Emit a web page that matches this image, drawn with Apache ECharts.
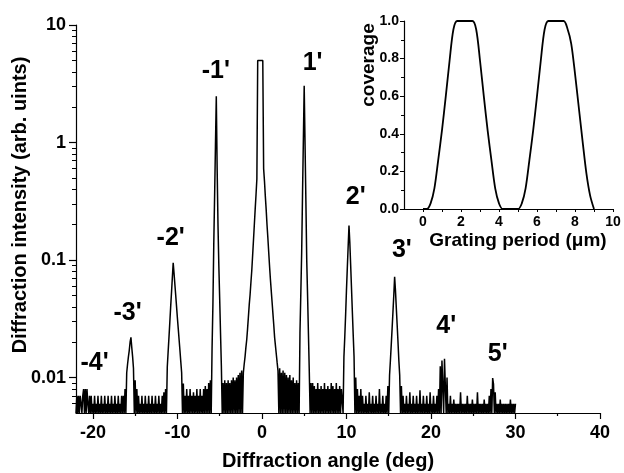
<!DOCTYPE html>
<html>
<head>
<meta charset="utf-8">
<script src="https://cdn.jsdelivr.net/npm/echarts@6.0.0/dist/echarts.min.js"></script>
<style>
  html, body { margin: 0; padding: 0; background: #fff; }
  #chart { width: 624px; height: 473px; }
</style>
</head>
<body>
<div id="chart"></div>
<script>
// Diffraction scan, sampled every 0.1 deg starting at -22 deg
const angleStart = -22.0;
const angleStep = 0.1;
const intensity = [
  .005,.007,.005,.007,.005,.007,.006,.005,.007,.008,   // -22
  .005,.008,.005,.008,.006,.005,.007,.005,.007,.005,   // -21
  .006,.005,.007,.005,.006,.005,.007,.005,.006,.005,   // -20
  .007,.005,.006,.005,.007,.005,.006,.005,.007,.005,   // -19
  .006,.005,.007,.005,.006,.005,.007,.005,.006,.005,   // -18
  .007,.005,.006,.005,.007,.005,.007,.005,.008,.005,   // -17
  .011,.013,.015,.017,.020,.022,.018,.015,.012,.005,   // -16
  .0095,.005,.008,.005,.007,.005,.006,.005,.007,.005,  // -15
  .006,.005,.007,.005,.006,.005,.007,.005,.006,.005,   // -14
  .007,.005,.006,.005,.007,.005,.006,.005,.007,.005,   // -13
  .006,.005,.007,.005,.0075,.005,.008,.005,.0123,.0165, // -12
  .022,.0295,.040,.053,.071,.095,.077,.062,.050,.040,  // -11
  .032,.026,.021,.017,.0136,.011,.005,.0089,.005,.007, // -10
  .005,.008,.005,.007,.005,.008,.005,.007,.005,.0075,  // -9
  .005,.007,.005,.008,.005,.007,.005,.008,.005,.007,   // -8
  .005,.008,.005,.0085,.005,.008,.005,.009,.005,.0095, // -7
  .005,.018,.042,.134,.35,.94,2.48,.60,.20,.090,       // -6
  .047,.024,.0125,.005,.009,.005,.0095,.005,.009,.005, // -5
  .0095,.005,.009,.005,.0095,.005,.010,.005,.0095,.005, // -4
  .010,.005,.0105,.005,.011,.005,.0115,.005,.011,.013, // -3
  .015,.018,.021,.026,.033,.042,.051,.065,.082,.11,    // -2
  .148,.20,.27,.36,.49,5,5,5,5,5,                      // -1
  5,5,.60,.47,.35,.27,.20,.155,.117,.089,              // 0
  .069,.055,.044,.035,.028,.022,.0186,.0158,.0134,.0114, // 1
  .005,.012,.005,.011,.005,.0115,.005,.011,.005,.0105, // 2
  .005,.010,.005,.0105,.005,.0095,.005,.010,.005,.009, // 3
  .005,.0095,.005,.009,.005,.024,.052,.115,.35,1.03,   // 4
  3.04,.98,.32,.10,.050,.024,.0115,.005,.009,.005,     // 5
  .009,.005,.0085,.005,.008,.005,.009,.005,.008,.005,  // 6
  .0085,.005,.008,.005,.009,.005,.008,.005,.0085,.005, // 7
  .008,.005,.009,.005,.0085,.005,.008,.005,.009,.005,  // 8
  .008,.005,.0085,.005,.008,.008,.005,.015,.022,.034,  // 9
  .055,.085,.13,.197,.14,.09,.057,.036,.023,.015,      // 10
  .005,.010,.005,.008,.005,.007,.005,.008,.005,.007,   // 11
  .005,.006,.005,.007,.005,.006,.005,.0075,.005,.006,  // 12
  .005,.007,.005,.006,.005,.007,.005,.006,.005,.008,   // 13
  .005,.006,.005,.007,.005,.006,.005,.007,.005,.0085,  // 14
  .005,.0105,.014,.019,.026,.036,.050,.072,.055,.039,  // 15
  .028,.020,.014,.0105,.005,.0085,.005,.007,.005,.006, // 16
  .005,.007,.005,.006,.005,.0075,.005,.006,.005,.007,  // 17
  .005,.006,.005,.007,.005,.006,.005,.0078,.005,.006,  // 18
  .005,.007,.005,.006,.005,.007,.005,.006,.005,.0075,  // 19
  .005,.006,.005,.007,.005,.006,.005,.007,.005,.008,   // 20
  .005,.0125,.005,.014,.0135,.005,.0145,.015,.005,.010, // 21
  .005,.006,.005,.007,.005,.006,.005,.0065,.005,.006,  // 22
  .005,.006,.005,.006,.005,.0075,.005,.006,.005,.006,  // 23
  .005,.006,.005,.007,.005,.006,.005,.006,.005,.0065,  // 24
  .005,.006,.005,.006,.005,.0075,.005,.006,.005,.006,  // 25
  .005,.006,.005,.0065,.005,.006,.005,.006,.005,.007,  // 26
  .005,.008,.005,.0099,.0088,.005,.0075,.005,.006,.005, // 27
  .006,.005,.0065,.005,.006,.005,.006,.005,.006,.005,  // 28
  .006,.005,.006,.005,.0065,.005,.006,.005,.006,.005,  // 29
  .006                                                 // 30
];

// Diffraction order annotations (anchor in angle / intensity units)
const orderNames  = ["-4'", "-3'", "-2'", "-1'", "1'", "2'", "3'", "4'", "5'"];
const orderAngles = [-19.8, -15.9, -10.8, -5.45, 6.0, 11.1, 16.55, 21.8, 27.9];
const orderLevels = [0.0134, 0.0357, 0.153, 4.06, 4.74, 0.342, 0.121, 0.0272, 0.0157];

// Grating coverage profile (inset)
const periodUm = [0,0.2,0.4,0.6,0.8,1.0,1.2,1.4,1.6,1.8,
                  2.6,2.8,3.0,3.2,3.4,3.6,3.8,4.0,4.2,
                  5.0,5.2,5.4,5.6,5.8,6.0,6.2,6.4,6.6,
                  7.4,7.6,7.8,8.0,8.2,8.4,8.6,8.8,9.0];
const coverage = [0,0,0.03,0.11,0.26,0.42,0.60,0.79,0.955,1,
                  1,0.955,0.79,0.60,0.42,0.26,0.11,0.03,0,
                  0,0.03,0.11,0.26,0.42,0.60,0.79,0.955,1,
                  1,0.96,0.88,0.72,0.54,0.36,0.19,0.07,0];

// Tick positions
const xMajorTicks = [-20, -10, 0, 10, 20, 30, 40];
const xMinorTicks = [-15, -5, 5, 15, 25, 35];
const yMajorTicks = [0.01, 0.1, 1, 10];
const yMinorTicks = [0.006,0.007,0.008,0.009,
                     0.02,0.03,0.04,0.05,0.06,0.07,0.08,0.09,
                     0.2,0.3,0.4,0.5,0.6,0.7,0.8,0.9,
                     2,3,4,5,6,7,8,9];
const insetXLabels = [0, 2, 4, 6, 8, 10];
const insetXTicks = [0, 1, 2, 3, 4, 5, 6, 7, 8, 9, 10];

const FONT = 'Liberation Sans';
const scanData = intensity.map((v, i) => [Math.round((angleStart + i * angleStep) * 10) / 10, v]);
const orderData = orderNames.map((n, i) => ({ name: n, value: [orderAngles[i], orderLevels[i]] }));
const coverageData = periodUm.map((p, i) => [p, coverage[i]]);

const labelStyle = { color: '#000', fontFamily: FONT, fontWeight: 'bold' };

const chart = echarts.init(document.getElementById('chart'), null, { renderer: 'canvas' });
chart.setOption({
  animation: false,
  backgroundColor: '#fff',
  grid: [
    { left: 76, right: 24, top: 25, bottom: 60 },
    { left: 404, width: 209, top: 21, height: 188 }
  ],
  xAxis: [
    {
      gridIndex: 0, type: 'value', min: -22, max: 40, position: 'bottom',
      axisLine: { onZero: false, lineStyle: { color: '#000', width: 1.2 } },
      axisTick: { customValues: xMajorTicks, length: 6, lineStyle: { color: '#000', width: 1.2 } },
      axisLabel: Object.assign({ customValues: xMajorTicks, fontSize: 18, margin: 11 }, labelStyle),
      splitLine: { show: false }
    },
    {
      gridIndex: 0, type: 'value', min: -22, max: 40, position: 'bottom',
      axisLine: { show: false, onZero: false },
      axisTick: { customValues: xMinorTicks, length: 3, lineStyle: { color: '#000', width: 1.2 } },
      axisLabel: { show: false },
      splitLine: { show: false }
    },
    {
      gridIndex: 1, type: 'value', min: -1, max: 10, position: 'bottom',
      axisLine: { onZero: false, lineStyle: { color: '#000', width: 1.2 } },
      axisTick: { customValues: insetXTicks, length: 3, lineStyle: { color: '#000', width: 1 } },
      axisLabel: Object.assign({ customValues: insetXLabels, fontSize: 14, margin: 6 }, labelStyle),
      splitLine: { show: false }
    }
  ],
  yAxis: [
    {
      gridIndex: 0, type: 'log', logBase: 10, min: 0.005, max: 10, position: 'left',
      axisLine: { show: true, onZero: false, lineStyle: { color: '#000', width: 1.2 } },
      axisTick: { customValues: yMajorTicks, length: 7, lineStyle: { color: '#000', width: 1.2 } },
      axisLabel: Object.assign({ customValues: yMajorTicks, fontSize: 18, margin: 10,
        formatter: v => String(v) }, labelStyle),
      splitLine: { show: false }
    },
    {
      gridIndex: 0, type: 'log', logBase: 10, min: 0.005, max: 10, position: 'left',
      axisLine: { show: false, onZero: false },
      axisTick: { customValues: yMinorTicks, length: 4, lineStyle: { color: '#000', width: 1 } },
      axisLabel: { show: false },
      splitLine: { show: false }
    },
    {
      gridIndex: 1, type: 'value', min: 0, max: 1, interval: 0.2, position: 'left',
      axisLine: { show: true, onZero: false, lineStyle: { color: '#000', width: 1.2 } },
      axisTick: { length: 4, lineStyle: { color: '#000', width: 1 } },
      minorTick: { show: true, splitNumber: 2, length: 3, lineStyle: { color: '#000', width: 1 } },
      axisLabel: Object.assign({ fontSize: 14, margin: 5, formatter: v => v.toFixed(1) }, labelStyle),
      splitLine: { show: false }
    }
  ],
  series: [
    {
      name: 'scan', type: 'line', xAxisIndex: 0, yAxisIndex: 0,
      data: scanData, showSymbol: false, symbol: 'none', clip: true,
      lineStyle: { color: '#000', width: 1.5, join: 'bevel' }
    },
    {
      name: 'orders', type: 'scatter', xAxisIndex: 0, yAxisIndex: 0,
      data: orderData, symbolSize: 0.01, itemStyle: { color: '#000', opacity: 1 },
      label: Object.assign({ show: true, position: 'inside', fontSize: 25, opacity: 1,
        textBorderWidth: 0, formatter: p => p.name }, labelStyle),
      emphasis: { disabled: true }
    },
    {
      name: 'coverage', type: 'line', xAxisIndex: 2, yAxisIndex: 2,
      data: coverageData, showSymbol: false, symbol: 'none', smooth: 0.3, clip: false,
      lineStyle: { color: '#000', width: 1.8 }
    }
  ],
  graphic: [
    { type: 'text', x: 20, y: 205, rotation: Math.PI / 2,
      style: { text: 'Diffraction intensity (arb. uints)', font: 'bold 20px "Liberation Sans"',
        fill: '#000', align: 'center', verticalAlign: 'middle' } },
    { type: 'text', x: 328, y: 461,
      style: { text: 'Diffraction angle (deg)', font: 'bold 20px "Liberation Sans"',
        fill: '#000', align: 'center', verticalAlign: 'middle' } },
    { type: 'text', x: 369, y: 65, rotation: Math.PI / 2,
      style: { text: 'coverage', font: 'bold 19px "Liberation Sans"',
        fill: '#000', align: 'center', verticalAlign: 'middle' } },
    { type: 'text', x: 518, y: 241,
      style: { text: 'Grating period (\u03bcm)', font: 'bold 19px "Liberation Sans"',
        fill: '#000', align: 'center', verticalAlign: 'middle' } }
  ]
});
</script>
</body>
</html>
